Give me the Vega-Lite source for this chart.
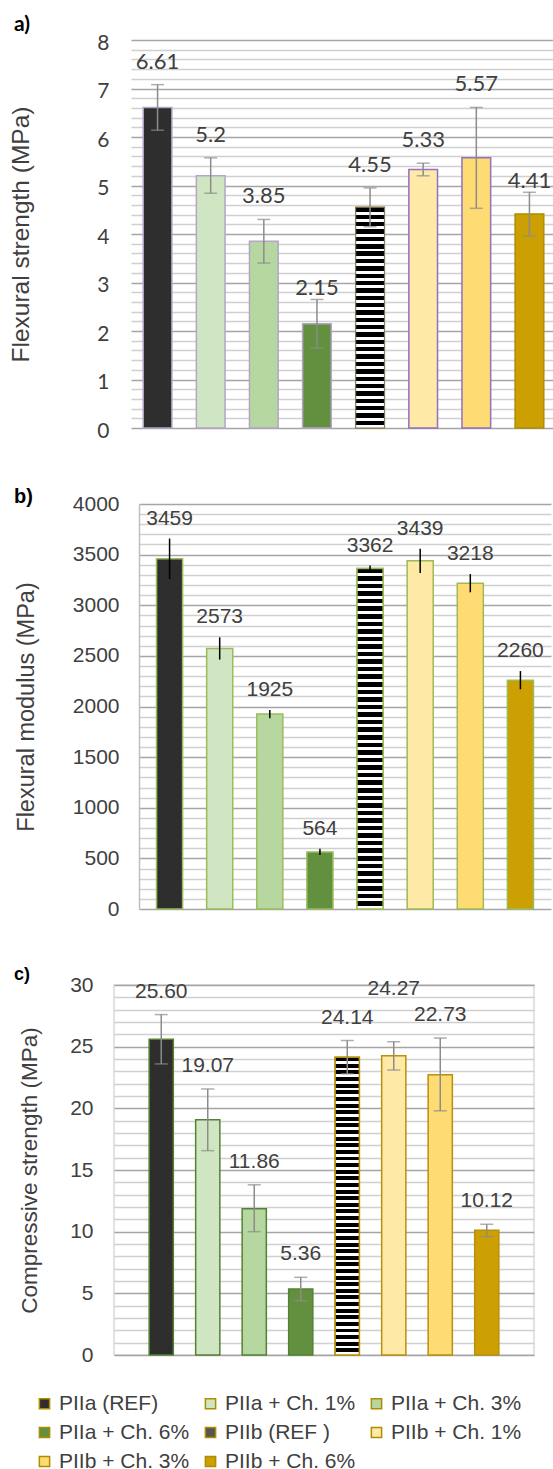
{
  "$schema": "https://vega.github.io/schema/vega-lite/v6.json",
  "padding": {"left": 0, "top": 14, "right": 0, "bottom": 0},
  "background": "white",
  "spacing": 46,
  "config": {
    "font": "Liberation Sans",
    "axis": {"labelFont": "Liberation Sans", "titleFont": "Liberation Sans"}
  },
  "vconcat": [
    {
      "spacing": 0,
      "hconcat": [
        {"width": 7, "height": 1, "view": {"stroke": null}, "data": {"values": []}, "mark": "rect"},
        {
          "width": 425,
          "height": 388,
          "view": {"stroke": null},
          "title": {"text": "a)", "anchor": "start", "frame": "bounds", "font": "Lato", "fontSize": 21, "fontWeight": "bold", "color": "#000000", "offset": -3, "dx": 6},
          "data": {"values": [
            {"sample": "PIIa (REF)", "value": 6.61, "lo": 6.14, "hi": 7.08},
            {"sample": "PIIa + Ch. 1%", "value": 5.2, "lo": 4.84, "hi": 5.57},
            {"sample": "PIIa + Ch. 3%", "value": 3.85, "lo": 3.4, "hi": 4.3},
            {"sample": "PIIa + Ch. 6%", "value": 2.15, "lo": 1.65, "hi": 2.65},
            {"sample": "PIIb (REF )", "value": 4.55, "lo": 4.15, "hi": 4.95},
            {"sample": "PIIb + Ch. 1%", "value": 5.33, "lo": 5.2, "hi": 5.46},
            {"sample": "PIIb + Ch. 3%", "value": 5.57, "lo": 4.53, "hi": 6.61},
            {"sample": "PIIb + Ch. 6%", "value": 4.41, "lo": 3.96, "hi": 4.86}
          ]},
          "encoding": {
            "x": {"field": "sample", "type": "nominal", "sort": null, "axis": null, "scale": {"paddingInner": 0.46, "paddingOuter": 0.23}}
          },
          "layer": [
            {
              "mark": {"type": "bar", "strokeWidth": 1.5},
              "encoding": {
                "y": {"field": "value", "type": "quantitative", "title": "Flexural strength (MPa)",
                  "scale": {"domain": [0, 8], "nice": false},
                  "axis": {
                    "values": [0,0.2,0.4,0.6,0.8,1,1.2,1.4,1.6,1.8,2,2.2,2.4,2.6,2.8,3,3.2,3.4,3.6,3.8,4,4.2,4.4,4.6,4.8,5,5.2,5.4,5.6,5.8,6,6.2,6.4,6.6,6.8,7,7.2,7.4,7.6,7.8,8],
                    "tickCount": 100,
                    "tickMinStep": 0.1,
                    "labelExpr": "datum.value % 1 === 0 ? format(datum.value, 'd') : ''",
                    "grid": true,
                    "gridColor": {"condition": {"test": "datum.value % 1 === 0", "value": "#a5a5a5"}, "value": "#d0d0d0"},
                    "gridWidth": 1.5,
                    "domain": false, "ticks": false, "tickSize": 0,
                    "labelPadding": 22, "labelOffset": 3, "labelOverlap": false, "labelFlush": false,
                    "labelFont": "Lato", "labelFontSize": 21, "labelColor": "#404040",
                    "titleFontSize": 24.5, "titleFontWeight": "normal", "titleColor": "#404040",
                    "titleX": -122, "titleBaseline": "top"
                  }
                },
                "color": {"field": "sample", "type": "nominal",
                  "scale": {
                    "domain": ["PIIa (REF)", "PIIa + Ch. 1%", "PIIa + Ch. 3%", "PIIa + Ch. 6%", "PIIb (REF )", "PIIb + Ch. 1%", "PIIb + Ch. 3%", "PIIb + Ch. 6%"],
                    "range": ["#2e2e2e", "#d0e6c3", "#b6d7a0", "#62903f", "#555555", "#ffe9a6", "#ffdb73", "#cc9f02"]
                  },
                  "legend": {
                    "orient": "none", "legendX": 34, "legendY": 1353, "columns": 3, "direction": "horizontal", "title": null,
                    "symbolType": "square", "symbolSize": 105, "symbolStrokeWidth": 1.5,
                    "labelFont": "Liberation Sans", "labelFontSize": 21, "labelColor": "#404040", "labelLimit": 300,
                    "columnPadding": 10, "rowPadding": 7, "labelOffset": 4,
                    "encode": {"symbols": {"update": {"stroke": {"signal": "indexof(['PIIa (REF)','PIIa + Ch. 1%','PIIa + Ch. 3%','PIIa + Ch. 6%'], datum.value) >= 0 ? '#8aab5c' : '#b08c00'"}, "strokeWidth": {"value": 1.5}}}}
                  }
                },
                "stroke": {"condition": [
                  {"test": "indexof(['PIIb + Ch. 1%','PIIb + Ch. 3%'], datum.sample) >= 0", "value": "#9370c0"},
                  {"test": "indexof(['PIIa (REF)','PIIa + Ch. 1%','PIIa + Ch. 3%','PIIa + Ch. 6%'], datum.sample) >= 0", "value": "#b3a4c9"}
                ], "value": "#b08c00"}
              }
            },
            {
              "transform": [{"filter": "datum.sample === 'PIIb (REF )'"}],
              "mark": {"type": "bar", "stroke": "#777777", "strokeWidth": 1,
                "fill": {"gradient": "linear", "x1": 0, "y1": 0, "x2": 0, "y2": 1, "stops": [
{"offset":0,"color":"#000"},{"offset":0.02,"color":"#000"},{"offset":0.02,"color":"#fff"},{"offset":0.0333,"color":"#fff"},
{"offset":0.0333,"color":"#000"},{"offset":0.0533,"color":"#000"},{"offset":0.0533,"color":"#fff"},{"offset":0.0667,"color":"#fff"},
{"offset":0.0667,"color":"#000"},{"offset":0.0867,"color":"#000"},{"offset":0.0867,"color":"#fff"},{"offset":0.1,"color":"#fff"},
{"offset":0.1,"color":"#000"},{"offset":0.12,"color":"#000"},{"offset":0.12,"color":"#fff"},{"offset":0.1333,"color":"#fff"},
{"offset":0.1333,"color":"#000"},{"offset":0.1533,"color":"#000"},{"offset":0.1533,"color":"#fff"},{"offset":0.1667,"color":"#fff"},
{"offset":0.1667,"color":"#000"},{"offset":0.1867,"color":"#000"},{"offset":0.1867,"color":"#fff"},{"offset":0.2,"color":"#fff"},
{"offset":0.2,"color":"#000"},{"offset":0.22,"color":"#000"},{"offset":0.22,"color":"#fff"},{"offset":0.2333,"color":"#fff"},
{"offset":0.2333,"color":"#000"},{"offset":0.2533,"color":"#000"},{"offset":0.2533,"color":"#fff"},{"offset":0.2667,"color":"#fff"},
{"offset":0.2667,"color":"#000"},{"offset":0.2867,"color":"#000"},{"offset":0.2867,"color":"#fff"},{"offset":0.3,"color":"#fff"},
{"offset":0.3,"color":"#000"},{"offset":0.32,"color":"#000"},{"offset":0.32,"color":"#fff"},{"offset":0.3333,"color":"#fff"},
{"offset":0.3333,"color":"#000"},{"offset":0.3533,"color":"#000"},{"offset":0.3533,"color":"#fff"},{"offset":0.3667,"color":"#fff"},
{"offset":0.3667,"color":"#000"},{"offset":0.3867,"color":"#000"},{"offset":0.3867,"color":"#fff"},{"offset":0.4,"color":"#fff"},
{"offset":0.4,"color":"#000"},{"offset":0.42,"color":"#000"},{"offset":0.42,"color":"#fff"},{"offset":0.4333,"color":"#fff"},
{"offset":0.4333,"color":"#000"},{"offset":0.4533,"color":"#000"},{"offset":0.4533,"color":"#fff"},{"offset":0.4667,"color":"#fff"},
{"offset":0.4667,"color":"#000"},{"offset":0.4867,"color":"#000"},{"offset":0.4867,"color":"#fff"},{"offset":0.5,"color":"#fff"},
{"offset":0.5,"color":"#000"},{"offset":0.52,"color":"#000"},{"offset":0.52,"color":"#fff"},{"offset":0.5333,"color":"#fff"},
{"offset":0.5333,"color":"#000"},{"offset":0.5533,"color":"#000"},{"offset":0.5533,"color":"#fff"},{"offset":0.5667,"color":"#fff"},
{"offset":0.5667,"color":"#000"},{"offset":0.5867,"color":"#000"},{"offset":0.5867,"color":"#fff"},{"offset":0.6,"color":"#fff"},
{"offset":0.6,"color":"#000"},{"offset":0.62,"color":"#000"},{"offset":0.62,"color":"#fff"},{"offset":0.6333,"color":"#fff"},
{"offset":0.6333,"color":"#000"},{"offset":0.6533,"color":"#000"},{"offset":0.6533,"color":"#fff"},{"offset":0.6667,"color":"#fff"},
{"offset":0.6667,"color":"#000"},{"offset":0.6867,"color":"#000"},{"offset":0.6867,"color":"#fff"},{"offset":0.7,"color":"#fff"},
{"offset":0.7,"color":"#000"},{"offset":0.72,"color":"#000"},{"offset":0.72,"color":"#fff"},{"offset":0.7333,"color":"#fff"},
{"offset":0.7333,"color":"#000"},{"offset":0.7533,"color":"#000"},{"offset":0.7533,"color":"#fff"},{"offset":0.7667,"color":"#fff"},
{"offset":0.7667,"color":"#000"},{"offset":0.7867,"color":"#000"},{"offset":0.7867,"color":"#fff"},{"offset":0.8,"color":"#fff"},
{"offset":0.8,"color":"#000"},{"offset":0.82,"color":"#000"},{"offset":0.82,"color":"#fff"},{"offset":0.8333,"color":"#fff"},
{"offset":0.8333,"color":"#000"},{"offset":0.8533,"color":"#000"},{"offset":0.8533,"color":"#fff"},{"offset":0.8667,"color":"#fff"},
{"offset":0.8667,"color":"#000"},{"offset":0.8867,"color":"#000"},{"offset":0.8867,"color":"#fff"},{"offset":0.9,"color":"#fff"},
{"offset":0.9,"color":"#000"},{"offset":0.92,"color":"#000"},{"offset":0.92,"color":"#fff"},{"offset":0.9333,"color":"#fff"},
{"offset":0.9333,"color":"#000"},{"offset":0.9533,"color":"#000"},{"offset":0.9533,"color":"#fff"},{"offset":0.9667,"color":"#fff"},
{"offset":0.9667,"color":"#000"},{"offset":0.9867,"color":"#000"},{"offset":0.9867,"color":"#fff"},{"offset":1,"color":"#fff"}
                ]}
              },
              "encoding": {"y": {"field": "value", "type": "quantitative", "title": "Flexural strength (MPa)"}}
            },
            {
              "mark": {"type": "rule", "color": "#8c8c8c", "strokeWidth": 1.5},
              "encoding": {"y": {"field": "lo", "type": "quantitative", "title": "Flexural strength (MPa)"}, "y2": {"field": "hi"}}
            },
            {
              "mark": {"type": "tick", "orient": "horizontal", "size": 13, "thickness": 1.5, "color": "#8c8c8c"},
              "encoding": {"y": {"field": "lo", "type": "quantitative", "title": "Flexural strength (MPa)"}}
            },
            {
              "mark": {"type": "tick", "orient": "horizontal", "size": 13, "thickness": 1.5, "color": "#8c8c8c"},
              "encoding": {"y": {"field": "hi", "type": "quantitative", "title": "Flexural strength (MPa)"}}
            },
            {
              "transform": [{"filter": "datum.sample !== 'PIIb + Ch. 6%' && datum.sample !== 'PIIa + Ch. 6%'"}],
              "mark": {"type": "text", "font": "Lato", "fontSize": 22, "color": "#404040", "dy": -23, "baseline": "middle"},
              "encoding": {
                "y": {"field": "hi", "type": "quantitative", "title": "Flexural strength (MPa)"},
                "text": {"field": "value", "type": "quantitative"}
              }
            },
            {
              "transform": [{"filter": "datum.sample === 'PIIb + Ch. 6%' || datum.sample === 'PIIa + Ch. 6%'"}],
              "mark": {"type": "text", "font": "Lato", "fontSize": 22, "color": "#404040", "dy": -11, "baseline": "middle"},
              "encoding": {
                "y": {"field": "hi", "type": "quantitative", "title": "Flexural strength (MPa)"},
                "text": {"field": "value", "type": "quantitative"}
              }
            }
          ]
        }
      ]
    },
    {
      "spacing": 0,
      "hconcat": [
        {"width": 13, "height": 1, "view": {"stroke": null}, "data": {"values": []}, "mark": "rect"},
        {
          "width": 412,
          "height": 405,
          "view": {"stroke": null},
          "title": {"text": "b)", "anchor": "start", "frame": "bounds", "font": "Liberation Sans", "fontSize": 20, "fontWeight": "bold", "color": "#000000", "offset": -14},
          "data": {"values": [
            {"sample": "PIIa (REF)", "value": 3459, "lo": 3259, "hi": 3659},
            {"sample": "PIIa + Ch. 1%", "value": 2573, "lo": 2463, "hi": 2683},
            {"sample": "PIIa + Ch. 3%", "value": 1925, "lo": 1885, "hi": 1965},
            {"sample": "PIIa + Ch. 6%", "value": 564, "lo": 534, "hi": 594},
            {"sample": "PIIb (REF )", "value": 3362, "lo": 3332, "hi": 3392},
            {"sample": "PIIb + Ch. 1%", "value": 3439, "lo": 3319, "hi": 3559},
            {"sample": "PIIb + Ch. 3%", "value": 3218, "lo": 3128, "hi": 3308},
            {"sample": "PIIb + Ch. 6%", "value": 2260, "lo": 2170, "hi": 2350}
          ]},
          "encoding": {
            "x": {"field": "sample", "type": "nominal", "sort": null, "axis": null, "scale": {"paddingInner": 0.48, "paddingOuter": 0.35}}
          },
          "layer": [
            {
              "mark": {"type": "bar", "strokeWidth": 1.5, "stroke": "#9bbb59"},
              "encoding": {
                "y": {"field": "value", "type": "quantitative", "title": "Flexural modulus (MPa)",
                  "scale": {"domain": [0, 4000], "nice": false},
                  "axis": {
                    "values": [0,100,200,300,400,500,600,700,800,900,1000,1100,1200,1300,1400,1500,1600,1700,1800,1900,2000,2100,2200,2300,2400,2500,2600,2700,2800,2900,3000,3100,3200,3300,3400,3500,3600,3700,3800,3900,4000],
                    "tickCount": 100,
                    "format": "d",
                    "labelExpr": "datum.value % 500 === 0 ? datum.label : ''",
                    "grid": true,
                    "gridColor": {"condition": {"test": "datum.value % 500 === 0", "value": "#a5a5a5"}, "value": "#d0d0d0"},
                    "gridWidth": 1.5,
                    "domain": true, "domainColor": "#bfbfbf", "domainWidth": 1.5, "ticks": false, "tickSize": 0,
                    "labelPadding": 20, "labelOverlap": false, "labelFlush": false,
                    "labelFontSize": 21, "labelColor": "#404040",
                    "titleFontSize": 23.5, "titleFontWeight": "normal", "titleColor": "#404040",
                    "titleX": -125, "titleBaseline": "top"
                  }
                },
                "color": {"field": "sample", "type": "nominal",
                  "scale": {
                    "domain": ["PIIa (REF)", "PIIa + Ch. 1%", "PIIa + Ch. 3%", "PIIa + Ch. 6%", "PIIb (REF )", "PIIb + Ch. 1%", "PIIb + Ch. 3%", "PIIb + Ch. 6%"],
                    "range": ["#2e2e2e", "#d0e6c3", "#b6d7a0", "#62903f", "#555555", "#ffe9a6", "#ffdb73", "#cc9f02"]
                  },
                  "legend": {
                    "orient": "none", "legendX": 34, "legendY": 1353, "columns": 3, "direction": "horizontal", "title": null,
                    "symbolType": "square", "symbolSize": 105, "symbolStrokeWidth": 1.5,
                    "labelFont": "Liberation Sans", "labelFontSize": 21, "labelColor": "#404040", "labelLimit": 300,
                    "columnPadding": 10, "rowPadding": 7, "labelOffset": 4,
                    "encode": {"symbols": {"update": {"stroke": {"signal": "indexof(['PIIa (REF)','PIIa + Ch. 1%','PIIa + Ch. 3%','PIIa + Ch. 6%'], datum.value) >= 0 ? '#8aab5c' : '#b08c00'"}, "strokeWidth": {"value": 1.5}}}}
                  }
                }
              }
            },
            {
              "transform": [{"filter": "datum.sample === 'PIIb (REF )'"}],
              "mark": {"type": "bar", "stroke": "#9bbb59", "strokeWidth": 1.5,
                "fill": {"gradient": "linear", "x1": 0, "y1": 0, "x2": 0, "y2": 1, "stops": [
{"offset":0,"color":"#000"},{"offset":0.0133,"color":"#000"},{"offset":0.0133,"color":"#fff"},{"offset":0.0222,"color":"#fff"},
{"offset":0.0222,"color":"#000"},{"offset":0.0356,"color":"#000"},{"offset":0.0356,"color":"#fff"},{"offset":0.0444,"color":"#fff"},
{"offset":0.0444,"color":"#000"},{"offset":0.0578,"color":"#000"},{"offset":0.0578,"color":"#fff"},{"offset":0.0667,"color":"#fff"},
{"offset":0.0667,"color":"#000"},{"offset":0.08,"color":"#000"},{"offset":0.08,"color":"#fff"},{"offset":0.0889,"color":"#fff"},
{"offset":0.0889,"color":"#000"},{"offset":0.1022,"color":"#000"},{"offset":0.1022,"color":"#fff"},{"offset":0.1111,"color":"#fff"},
{"offset":0.1111,"color":"#000"},{"offset":0.1244,"color":"#000"},{"offset":0.1244,"color":"#fff"},{"offset":0.1333,"color":"#fff"},
{"offset":0.1333,"color":"#000"},{"offset":0.1467,"color":"#000"},{"offset":0.1467,"color":"#fff"},{"offset":0.1556,"color":"#fff"},
{"offset":0.1556,"color":"#000"},{"offset":0.1689,"color":"#000"},{"offset":0.1689,"color":"#fff"},{"offset":0.1778,"color":"#fff"},
{"offset":0.1778,"color":"#000"},{"offset":0.1911,"color":"#000"},{"offset":0.1911,"color":"#fff"},{"offset":0.2,"color":"#fff"},
{"offset":0.2,"color":"#000"},{"offset":0.2133,"color":"#000"},{"offset":0.2133,"color":"#fff"},{"offset":0.2222,"color":"#fff"},
{"offset":0.2222,"color":"#000"},{"offset":0.2356,"color":"#000"},{"offset":0.2356,"color":"#fff"},{"offset":0.2444,"color":"#fff"},
{"offset":0.2444,"color":"#000"},{"offset":0.2578,"color":"#000"},{"offset":0.2578,"color":"#fff"},{"offset":0.2667,"color":"#fff"},
{"offset":0.2667,"color":"#000"},{"offset":0.28,"color":"#000"},{"offset":0.28,"color":"#fff"},{"offset":0.2889,"color":"#fff"},
{"offset":0.2889,"color":"#000"},{"offset":0.3022,"color":"#000"},{"offset":0.3022,"color":"#fff"},{"offset":0.3111,"color":"#fff"},
{"offset":0.3111,"color":"#000"},{"offset":0.3244,"color":"#000"},{"offset":0.3244,"color":"#fff"},{"offset":0.3333,"color":"#fff"},
{"offset":0.3333,"color":"#000"},{"offset":0.3467,"color":"#000"},{"offset":0.3467,"color":"#fff"},{"offset":0.3556,"color":"#fff"},
{"offset":0.3556,"color":"#000"},{"offset":0.3689,"color":"#000"},{"offset":0.3689,"color":"#fff"},{"offset":0.3778,"color":"#fff"},
{"offset":0.3778,"color":"#000"},{"offset":0.3911,"color":"#000"},{"offset":0.3911,"color":"#fff"},{"offset":0.4,"color":"#fff"},
{"offset":0.4,"color":"#000"},{"offset":0.4133,"color":"#000"},{"offset":0.4133,"color":"#fff"},{"offset":0.4222,"color":"#fff"},
{"offset":0.4222,"color":"#000"},{"offset":0.4356,"color":"#000"},{"offset":0.4356,"color":"#fff"},{"offset":0.4444,"color":"#fff"},
{"offset":0.4444,"color":"#000"},{"offset":0.4578,"color":"#000"},{"offset":0.4578,"color":"#fff"},{"offset":0.4667,"color":"#fff"},
{"offset":0.4667,"color":"#000"},{"offset":0.48,"color":"#000"},{"offset":0.48,"color":"#fff"},{"offset":0.4889,"color":"#fff"},
{"offset":0.4889,"color":"#000"},{"offset":0.5022,"color":"#000"},{"offset":0.5022,"color":"#fff"},{"offset":0.5111,"color":"#fff"},
{"offset":0.5111,"color":"#000"},{"offset":0.5244,"color":"#000"},{"offset":0.5244,"color":"#fff"},{"offset":0.5333,"color":"#fff"},
{"offset":0.5333,"color":"#000"},{"offset":0.5467,"color":"#000"},{"offset":0.5467,"color":"#fff"},{"offset":0.5556,"color":"#fff"},
{"offset":0.5556,"color":"#000"},{"offset":0.5689,"color":"#000"},{"offset":0.5689,"color":"#fff"},{"offset":0.5778,"color":"#fff"},
{"offset":0.5778,"color":"#000"},{"offset":0.5911,"color":"#000"},{"offset":0.5911,"color":"#fff"},{"offset":0.6,"color":"#fff"},
{"offset":0.6,"color":"#000"},{"offset":0.6133,"color":"#000"},{"offset":0.6133,"color":"#fff"},{"offset":0.6222,"color":"#fff"},
{"offset":0.6222,"color":"#000"},{"offset":0.6356,"color":"#000"},{"offset":0.6356,"color":"#fff"},{"offset":0.6444,"color":"#fff"},
{"offset":0.6444,"color":"#000"},{"offset":0.6578,"color":"#000"},{"offset":0.6578,"color":"#fff"},{"offset":0.6667,"color":"#fff"},
{"offset":0.6667,"color":"#000"},{"offset":0.68,"color":"#000"},{"offset":0.68,"color":"#fff"},{"offset":0.6889,"color":"#fff"},
{"offset":0.6889,"color":"#000"},{"offset":0.7022,"color":"#000"},{"offset":0.7022,"color":"#fff"},{"offset":0.7111,"color":"#fff"},
{"offset":0.7111,"color":"#000"},{"offset":0.7244,"color":"#000"},{"offset":0.7244,"color":"#fff"},{"offset":0.7333,"color":"#fff"},
{"offset":0.7333,"color":"#000"},{"offset":0.7467,"color":"#000"},{"offset":0.7467,"color":"#fff"},{"offset":0.7556,"color":"#fff"},
{"offset":0.7556,"color":"#000"},{"offset":0.7689,"color":"#000"},{"offset":0.7689,"color":"#fff"},{"offset":0.7778,"color":"#fff"},
{"offset":0.7778,"color":"#000"},{"offset":0.7911,"color":"#000"},{"offset":0.7911,"color":"#fff"},{"offset":0.8,"color":"#fff"},
{"offset":0.8,"color":"#000"},{"offset":0.8133,"color":"#000"},{"offset":0.8133,"color":"#fff"},{"offset":0.8222,"color":"#fff"},
{"offset":0.8222,"color":"#000"},{"offset":0.8356,"color":"#000"},{"offset":0.8356,"color":"#fff"},{"offset":0.8444,"color":"#fff"},
{"offset":0.8444,"color":"#000"},{"offset":0.8578,"color":"#000"},{"offset":0.8578,"color":"#fff"},{"offset":0.8667,"color":"#fff"},
{"offset":0.8667,"color":"#000"},{"offset":0.88,"color":"#000"},{"offset":0.88,"color":"#fff"},{"offset":0.8889,"color":"#fff"},
{"offset":0.8889,"color":"#000"},{"offset":0.9022,"color":"#000"},{"offset":0.9022,"color":"#fff"},{"offset":0.9111,"color":"#fff"},
{"offset":0.9111,"color":"#000"},{"offset":0.9244,"color":"#000"},{"offset":0.9244,"color":"#fff"},{"offset":0.9333,"color":"#fff"},
{"offset":0.9333,"color":"#000"},{"offset":0.9467,"color":"#000"},{"offset":0.9467,"color":"#fff"},{"offset":0.9556,"color":"#fff"},
{"offset":0.9556,"color":"#000"},{"offset":0.9689,"color":"#000"},{"offset":0.9689,"color":"#fff"},{"offset":0.9778,"color":"#fff"},
{"offset":0.9778,"color":"#000"},{"offset":0.9911,"color":"#000"},{"offset":0.9911,"color":"#fff"},{"offset":1,"color":"#fff"}
                ]}
              },
              "encoding": {"y": {"field": "value", "type": "quantitative", "title": "Flexural modulus (MPa)"}}
            },
            {
              "mark": {"type": "rule", "color": "#000000", "strokeWidth": 1.5},
              "encoding": {"y": {"field": "lo", "type": "quantitative", "title": "Flexural modulus (MPa)"}, "y2": {"field": "hi"}}
            },
            {
              "mark": {"type": "text", "font": "Liberation Sans", "fontSize": 21, "color": "#404040", "dy": -20, "baseline": "middle"},
              "encoding": {
                "y": {"field": "hi", "type": "quantitative", "title": "Flexural modulus (MPa)"},
                "text": {"field": "value", "type": "quantitative", "format": "d"}
              }
            }
          ]
        }
      ]
    },
    {
      "spacing": 0,
      "hconcat": [
        {"width": 13, "height": 1, "view": {"stroke": null}, "data": {"values": []}, "mark": "rect"},
        {
          "width": 420,
          "height": 370,
          "view": {"stroke": "#d9d9d9", "strokeWidth": 1.5},
          "title": {"text": "c)", "anchor": "start", "frame": "bounds", "font": "Liberation Sans", "fontSize": 18, "fontWeight": "bold", "color": "#000000", "offset": -10, "dx": -4},
          "data": {"values": [
            {"sample": "PIIa (REF)", "value": 25.6, "lo": 23.6, "hi": 27.6},
            {"sample": "PIIa + Ch. 1%", "value": 19.07, "lo": 16.57, "hi": 21.57},
            {"sample": "PIIa + Ch. 3%", "value": 11.86, "lo": 10.0, "hi": 13.8},
            {"sample": "PIIa + Ch. 6%", "value": 5.36, "lo": 4.4, "hi": 6.3},
            {"sample": "PIIb (REF )", "value": 24.14, "lo": 22.8, "hi": 25.5},
            {"sample": "PIIb + Ch. 1%", "value": 24.27, "lo": 23.1, "hi": 25.4},
            {"sample": "PIIb + Ch. 3%", "value": 22.73, "lo": 19.8, "hi": 25.7},
            {"sample": "PIIb + Ch. 6%", "value": 10.12, "lo": 9.6, "hi": 10.6}
          ]},
          "encoding": {
            "x": {"field": "sample", "type": "nominal", "sort": null, "axis": null, "scale": {"paddingInner": 0.48, "paddingOuter": 0.756}}
          },
          "layer": [
            {
              "mark": {"type": "bar", "strokeWidth": 1.5},
              "encoding": {
                "y": {"field": "value", "type": "quantitative", "title": "Compressive strength (MPa)",
                  "scale": {"domain": [0, 30], "nice": false},
                  "axis": {
                    "values": [0,1,2,3,4,5,6,7,8,9,10,11,12,13,14,15,16,17,18,19,20,21,22,23,24,25,26,27,28,29,30],
                    "tickCount": 100,
                    "format": "d",
                    "labelExpr": "datum.value % 5 === 0 ? datum.label : ''",
                    "grid": true,
                    "gridColor": {"condition": {"test": "datum.value % 5 === 0", "value": "#a5a5a5"}, "value": "#d0d0d0"},
                    "gridWidth": 1.5,
                    "domain": false, "ticks": false, "tickSize": 0,
                    "labelPadding": 21, "labelOverlap": false, "labelFlush": false,
                    "labelFontSize": 21, "labelColor": "#404040",
                    "titleFontSize": 22.5, "titleFontWeight": "normal", "titleColor": "#404040",
                    "titleX": -96, "titleBaseline": "top"
                  }
                },
                "color": {"field": "sample", "type": "nominal",
                  "scale": {
                    "domain": ["PIIa (REF)", "PIIa + Ch. 1%", "PIIa + Ch. 3%", "PIIa + Ch. 6%", "PIIb (REF )", "PIIb + Ch. 1%", "PIIb + Ch. 3%", "PIIb + Ch. 6%"],
                    "range": ["#2e2e2e", "#d0e6c3", "#b6d7a0", "#62903f", "#555555", "#ffe9a6", "#ffdb73", "#cc9f02"]
                  },
                  "legend": {
                    "orient": "none", "legendX": 34, "legendY": 1353, "columns": 3, "direction": "horizontal", "title": null,
                    "symbolType": "square", "symbolSize": 105, "symbolStrokeWidth": 1.5,
                    "labelFont": "Liberation Sans", "labelFontSize": 21, "labelColor": "#404040", "labelLimit": 300,
                    "columnPadding": 10, "rowPadding": 7, "labelOffset": 4,
                    "encode": {"symbols": {"update": {"stroke": {"signal": "indexof(['PIIa (REF)','PIIa + Ch. 1%','PIIa + Ch. 3%','PIIa + Ch. 6%'], datum.value) >= 0 ? '#8aab5c' : '#b08c00'"}, "strokeWidth": {"value": 1.5}}}}
                  }
                },
                "stroke": {"condition": {"test": "indexof(['PIIa (REF)','PIIa + Ch. 1%','PIIa + Ch. 3%','PIIa + Ch. 6%'], datum.sample) >= 0", "value": "#548235"}, "value": "#b8900a"}
              }
            },
            {
              "transform": [{"filter": "datum.sample === 'PIIb (REF )'"}],
              "mark": {"type": "bar", "stroke": "#b8900a", "strokeWidth": 1.5,
                "fill": {"gradient": "linear", "x1": 0, "y1": 0, "x2": 0, "y2": 1, "stops": [
{"offset":0,"color":"#000"},{"offset":0.0133,"color":"#000"},{"offset":0.0133,"color":"#fff"},{"offset":0.0222,"color":"#fff"},
{"offset":0.0222,"color":"#000"},{"offset":0.0356,"color":"#000"},{"offset":0.0356,"color":"#fff"},{"offset":0.0444,"color":"#fff"},
{"offset":0.0444,"color":"#000"},{"offset":0.0578,"color":"#000"},{"offset":0.0578,"color":"#fff"},{"offset":0.0667,"color":"#fff"},
{"offset":0.0667,"color":"#000"},{"offset":0.08,"color":"#000"},{"offset":0.08,"color":"#fff"},{"offset":0.0889,"color":"#fff"},
{"offset":0.0889,"color":"#000"},{"offset":0.1022,"color":"#000"},{"offset":0.1022,"color":"#fff"},{"offset":0.1111,"color":"#fff"},
{"offset":0.1111,"color":"#000"},{"offset":0.1244,"color":"#000"},{"offset":0.1244,"color":"#fff"},{"offset":0.1333,"color":"#fff"},
{"offset":0.1333,"color":"#000"},{"offset":0.1467,"color":"#000"},{"offset":0.1467,"color":"#fff"},{"offset":0.1556,"color":"#fff"},
{"offset":0.1556,"color":"#000"},{"offset":0.1689,"color":"#000"},{"offset":0.1689,"color":"#fff"},{"offset":0.1778,"color":"#fff"},
{"offset":0.1778,"color":"#000"},{"offset":0.1911,"color":"#000"},{"offset":0.1911,"color":"#fff"},{"offset":0.2,"color":"#fff"},
{"offset":0.2,"color":"#000"},{"offset":0.2133,"color":"#000"},{"offset":0.2133,"color":"#fff"},{"offset":0.2222,"color":"#fff"},
{"offset":0.2222,"color":"#000"},{"offset":0.2356,"color":"#000"},{"offset":0.2356,"color":"#fff"},{"offset":0.2444,"color":"#fff"},
{"offset":0.2444,"color":"#000"},{"offset":0.2578,"color":"#000"},{"offset":0.2578,"color":"#fff"},{"offset":0.2667,"color":"#fff"},
{"offset":0.2667,"color":"#000"},{"offset":0.28,"color":"#000"},{"offset":0.28,"color":"#fff"},{"offset":0.2889,"color":"#fff"},
{"offset":0.2889,"color":"#000"},{"offset":0.3022,"color":"#000"},{"offset":0.3022,"color":"#fff"},{"offset":0.3111,"color":"#fff"},
{"offset":0.3111,"color":"#000"},{"offset":0.3244,"color":"#000"},{"offset":0.3244,"color":"#fff"},{"offset":0.3333,"color":"#fff"},
{"offset":0.3333,"color":"#000"},{"offset":0.3467,"color":"#000"},{"offset":0.3467,"color":"#fff"},{"offset":0.3556,"color":"#fff"},
{"offset":0.3556,"color":"#000"},{"offset":0.3689,"color":"#000"},{"offset":0.3689,"color":"#fff"},{"offset":0.3778,"color":"#fff"},
{"offset":0.3778,"color":"#000"},{"offset":0.3911,"color":"#000"},{"offset":0.3911,"color":"#fff"},{"offset":0.4,"color":"#fff"},
{"offset":0.4,"color":"#000"},{"offset":0.4133,"color":"#000"},{"offset":0.4133,"color":"#fff"},{"offset":0.4222,"color":"#fff"},
{"offset":0.4222,"color":"#000"},{"offset":0.4356,"color":"#000"},{"offset":0.4356,"color":"#fff"},{"offset":0.4444,"color":"#fff"},
{"offset":0.4444,"color":"#000"},{"offset":0.4578,"color":"#000"},{"offset":0.4578,"color":"#fff"},{"offset":0.4667,"color":"#fff"},
{"offset":0.4667,"color":"#000"},{"offset":0.48,"color":"#000"},{"offset":0.48,"color":"#fff"},{"offset":0.4889,"color":"#fff"},
{"offset":0.4889,"color":"#000"},{"offset":0.5022,"color":"#000"},{"offset":0.5022,"color":"#fff"},{"offset":0.5111,"color":"#fff"},
{"offset":0.5111,"color":"#000"},{"offset":0.5244,"color":"#000"},{"offset":0.5244,"color":"#fff"},{"offset":0.5333,"color":"#fff"},
{"offset":0.5333,"color":"#000"},{"offset":0.5467,"color":"#000"},{"offset":0.5467,"color":"#fff"},{"offset":0.5556,"color":"#fff"},
{"offset":0.5556,"color":"#000"},{"offset":0.5689,"color":"#000"},{"offset":0.5689,"color":"#fff"},{"offset":0.5778,"color":"#fff"},
{"offset":0.5778,"color":"#000"},{"offset":0.5911,"color":"#000"},{"offset":0.5911,"color":"#fff"},{"offset":0.6,"color":"#fff"},
{"offset":0.6,"color":"#000"},{"offset":0.6133,"color":"#000"},{"offset":0.6133,"color":"#fff"},{"offset":0.6222,"color":"#fff"},
{"offset":0.6222,"color":"#000"},{"offset":0.6356,"color":"#000"},{"offset":0.6356,"color":"#fff"},{"offset":0.6444,"color":"#fff"},
{"offset":0.6444,"color":"#000"},{"offset":0.6578,"color":"#000"},{"offset":0.6578,"color":"#fff"},{"offset":0.6667,"color":"#fff"},
{"offset":0.6667,"color":"#000"},{"offset":0.68,"color":"#000"},{"offset":0.68,"color":"#fff"},{"offset":0.6889,"color":"#fff"},
{"offset":0.6889,"color":"#000"},{"offset":0.7022,"color":"#000"},{"offset":0.7022,"color":"#fff"},{"offset":0.7111,"color":"#fff"},
{"offset":0.7111,"color":"#000"},{"offset":0.7244,"color":"#000"},{"offset":0.7244,"color":"#fff"},{"offset":0.7333,"color":"#fff"},
{"offset":0.7333,"color":"#000"},{"offset":0.7467,"color":"#000"},{"offset":0.7467,"color":"#fff"},{"offset":0.7556,"color":"#fff"},
{"offset":0.7556,"color":"#000"},{"offset":0.7689,"color":"#000"},{"offset":0.7689,"color":"#fff"},{"offset":0.7778,"color":"#fff"},
{"offset":0.7778,"color":"#000"},{"offset":0.7911,"color":"#000"},{"offset":0.7911,"color":"#fff"},{"offset":0.8,"color":"#fff"},
{"offset":0.8,"color":"#000"},{"offset":0.8133,"color":"#000"},{"offset":0.8133,"color":"#fff"},{"offset":0.8222,"color":"#fff"},
{"offset":0.8222,"color":"#000"},{"offset":0.8356,"color":"#000"},{"offset":0.8356,"color":"#fff"},{"offset":0.8444,"color":"#fff"},
{"offset":0.8444,"color":"#000"},{"offset":0.8578,"color":"#000"},{"offset":0.8578,"color":"#fff"},{"offset":0.8667,"color":"#fff"},
{"offset":0.8667,"color":"#000"},{"offset":0.88,"color":"#000"},{"offset":0.88,"color":"#fff"},{"offset":0.8889,"color":"#fff"},
{"offset":0.8889,"color":"#000"},{"offset":0.9022,"color":"#000"},{"offset":0.9022,"color":"#fff"},{"offset":0.9111,"color":"#fff"},
{"offset":0.9111,"color":"#000"},{"offset":0.9244,"color":"#000"},{"offset":0.9244,"color":"#fff"},{"offset":0.9333,"color":"#fff"},
{"offset":0.9333,"color":"#000"},{"offset":0.9467,"color":"#000"},{"offset":0.9467,"color":"#fff"},{"offset":0.9556,"color":"#fff"},
{"offset":0.9556,"color":"#000"},{"offset":0.9689,"color":"#000"},{"offset":0.9689,"color":"#fff"},{"offset":0.9778,"color":"#fff"},
{"offset":0.9778,"color":"#000"},{"offset":0.9911,"color":"#000"},{"offset":0.9911,"color":"#fff"},{"offset":1,"color":"#fff"}
                ]}
              },
              "encoding": {"y": {"field": "value", "type": "quantitative", "title": "Compressive strength (MPa)"}}
            },
            {
              "mark": {"type": "rule", "color": "#8c8c8c", "strokeWidth": 1.5},
              "encoding": {"y": {"field": "lo", "type": "quantitative", "title": "Compressive strength (MPa)"}, "y2": {"field": "hi"}}
            },
            {
              "mark": {"type": "tick", "orient": "horizontal", "size": 13, "thickness": 1.5, "color": "#8c8c8c"},
              "encoding": {"y": {"field": "lo", "type": "quantitative", "title": "Compressive strength (MPa)"}}
            },
            {
              "mark": {"type": "tick", "orient": "horizontal", "size": 13, "thickness": 1.5, "color": "#8c8c8c"},
              "encoding": {"y": {"field": "hi", "type": "quantitative", "title": "Compressive strength (MPa)"}}
            },
            {
              "transform": [{"filter": "datum.sample !== 'PIIb + Ch. 1%'"}],
              "mark": {"type": "text", "font": "Liberation Sans", "fontSize": 21, "color": "#404040", "dy": -23, "baseline": "middle"},
              "encoding": {
                "y": {"field": "hi", "type": "quantitative", "title": "Compressive strength (MPa)"},
                "text": {"field": "value", "type": "quantitative", "format": ".2f"}
              }
            },
            {
              "transform": [{"filter": "datum.sample === 'PIIb + Ch. 1%'"}],
              "mark": {"type": "text", "font": "Liberation Sans", "fontSize": 21, "color": "#404040", "dy": -53, "baseline": "middle"},
              "encoding": {
                "y": {"field": "hi", "type": "quantitative", "title": "Compressive strength (MPa)"},
                "text": {"field": "value", "type": "quantitative", "format": ".2f"}
              }
            }
          ]
        }
      ]
    }
  ]
}
